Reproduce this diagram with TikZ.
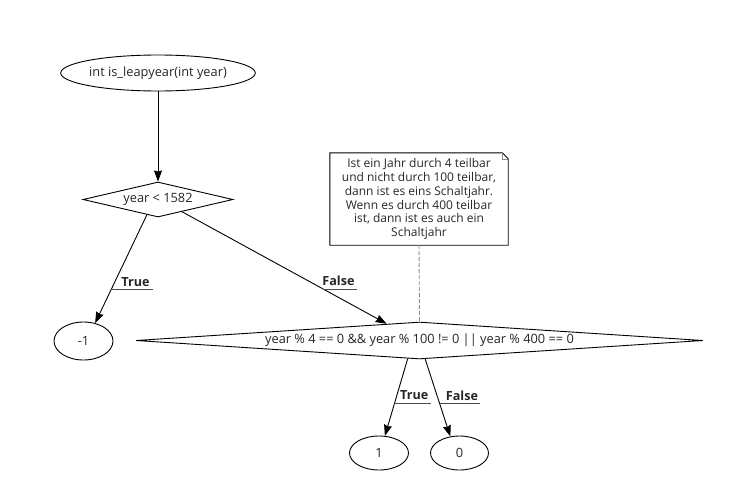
\documentclass[tikz,border=0pt]{standalone}
\usepackage{fontspec}
\setmainfont{Open Sans}
\usetikzlibrary{shapes.geometric,arrows.meta}
\begin{document}
\begin{tikzpicture}[x=1pt,y=-1pt,
  every node/.style={font=\fontsize{12.8}{15}\selectfont, text=black!85, inner sep=0pt},
  term/.style={ellipse, draw, line width=0.9pt},
  decision/.style={diamond, draw, line width=0.9pt},
  arr/.style={-{Stealth[length=11pt,width=8pt,inset=1pt]}, line width=0.9pt},
  lbl/.style={font=\fontsize{12.6}{15}\selectfont\bfseries, anchor=base west},
  uline/.style={line width=0.9pt, draw=black!70},
]
\useasboundingbox (0,0) rectangle (755,482);

% terminals and decisions
\node[term, minimum width=190pt, minimum height=36pt] (start) at (158,73) {int is\_leapyear(int year)};
\node[decision, shape aspect=4.3, minimum width=150pt, minimum height=35pt] (d1) at (158,199.5) {year < 1582};
\node[term, minimum width=59pt, minimum height=38pt] (m1) at (83.5,341) {-1};
\node[decision, shape aspect=15.3, minimum width=567pt, minimum height=37pt] (d2) at (419.5,340.5)
  {year \% 4 == 0 \&\& year \% 100 != 0 || year \% 400 == 0};
\node[term, minimum width=59pt, minimum height=34pt] (n1) at (379,453) {1};
\node[term, minimum width=58pt, minimum height=34pt] (n0) at (459.5,453) {0};

% comment note with folded corner
\node[minimum width=178pt, minimum height=92pt, align=center,
      font=\fontsize{12}{13.8}\selectfont] (note) at (419,199)
  {Ist ein Jahr durch 4 teilbar\\und nicht durch 100 teilbar,\\dann ist es eins Schaltjahr.\\Wenn es durch 400 teilbar\\ist, dann ist es auch ein\\Schaltjahr};
\draw[line width=0.9pt] (note.south west) -- (note.north west) -- ([xshift=-6pt]note.north east)
  -- ([yshift=-6pt]note.north east) -- (note.south east) -- cycle;
\draw[line width=0.6pt, draw=black!45] ([xshift=-6pt]note.north east) -- ([xshift=-6pt,yshift=-6pt]note.north east)
  -- ([yshift=-6pt]note.north east);
\draw[line width=0.9pt, draw=black!45, dash pattern=on 4pt off 2pt] (note.south) -- (d2.north);

% connectors
\draw[arr] (start.south) -- (d1.north);
\draw[arr] (d1.-126) -- coordinate[pos=0.69] (c1) (m1.57);
\draw[arr] (d1.-27) -- coordinate[pos=0.69] (c2) (d2.153);
\draw[arr] (d2.-123) -- coordinate[pos=0.58] (c3) (n1.71);
\draw[arr] (d2.-73) -- coordinate[pos=0.58] (c4) (n0.119);

% branch labels
\node[lbl] (l1) at ([xshift=10pt,yshift=3.5pt]c1) {True};
\draw[uline] (c1) -- ([xshift=3pt]c1 -| l1.east);
\node[lbl] (l2) at ([xshift=-1pt,yshift=3.5pt]c2) {False};
\draw[uline] (c2) -- ([xshift=2pt]c2 -| l2.east);
\node[lbl] (l3) at ([xshift=5.5pt,yshift=3.5pt]c3) {True};
\draw[uline] (c3) -- ([xshift=3pt]c3 -| l3.east);
\node[lbl] (l4) at ([xshift=6pt,yshift=3.5pt]c4) {False};
\draw[uline] (c4) -- ([xshift=2pt]c4 -| l4.east);
\end{tikzpicture}
\end{document}
